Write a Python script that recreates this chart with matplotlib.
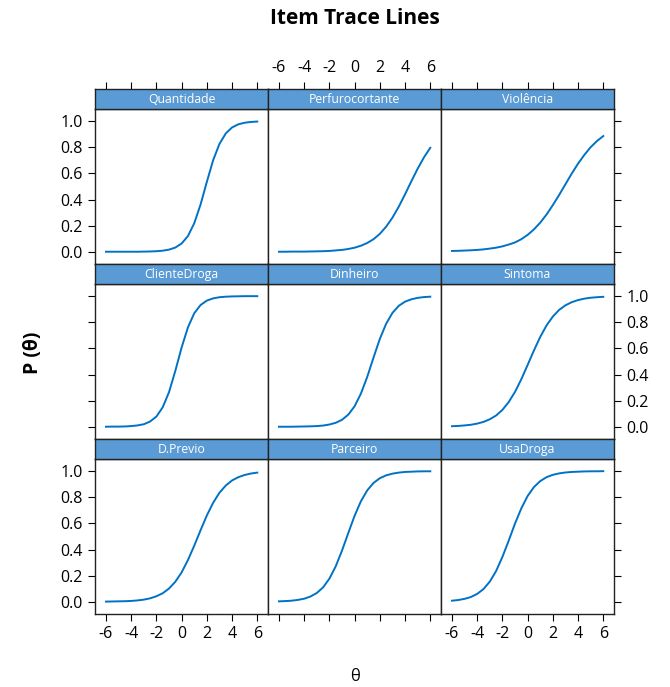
import matplotlib
matplotlib.use('Agg')
import matplotlib.pyplot as plt

plt.rcParams['font.family'] = ['Open Sans', 'DejaVu Sans']

# theta grid and item trace values
theta = [-6.0, -5.5, -5.0, -4.5, -4.0, -3.5, -3.0, -2.5, -2.0, -1.5, -1.0, -0.5, 0.0,
         0.5, 1.0, 1.5, 2.0, 2.5, 3.0, 3.5, 4.0, 4.5, 5.0, 5.5, 6.0]

quantidade = [0.000, 0.000, 0.000, 0.000, 0.000, 0.000, 0.001, 0.002, 0.004, 0.008, 0.016, 0.032, 0.063,
              0.120, 0.218, 0.361, 0.535, 0.701, 0.826, 0.906, 0.952, 0.976, 0.988, 0.994, 0.997]
perfurocortante = [0.000, 0.000, 0.001, 0.001, 0.001, 0.002, 0.003, 0.004, 0.006, 0.010, 0.014, 0.021, 0.031,
                   0.046, 0.067, 0.096, 0.137, 0.192, 0.261, 0.345, 0.440, 0.540, 0.636, 0.723, 0.796]
violencia = [0.006, 0.007, 0.009, 0.011, 0.014, 0.018, 0.024, 0.031, 0.041, 0.055, 0.071, 0.096, 0.129,
             0.171, 0.223, 0.285, 0.357, 0.435, 0.517, 0.599, 0.675, 0.742, 0.801, 0.848, 0.886]
cliente_droga = [0.000, 0.001, 0.001, 0.002, 0.005, 0.010, 0.019, 0.040, 0.078, 0.149, 0.265, 0.428, 0.607,
                 0.761, 0.869, 0.932, 0.966, 0.983, 0.992, 0.996, 0.998, 0.999, 1.000, 1.000, 1.000]
dinheiro = [0.000, 0.000, 0.000, 0.001, 0.002, 0.003, 0.005, 0.009, 0.017, 0.030, 0.053, 0.093, 0.157,
            0.254, 0.382, 0.530, 0.673, 0.789, 0.872, 0.926, 0.958, 0.976, 0.987, 0.993, 0.996]
sintoma = [0.004, 0.006, 0.010, 0.015, 0.024, 0.037, 0.057, 0.086, 0.129, 0.189, 0.267, 0.364, 0.473,
           0.584, 0.688, 0.776, 0.844, 0.895, 0.930, 0.954, 0.970, 0.981, 0.988, 0.992, 0.995]
d_previo = [0.001, 0.002, 0.003, 0.004, 0.006, 0.010, 0.016, 0.026, 0.042, 0.065, 0.101, 0.153, 0.225,
            0.319, 0.429, 0.547, 0.661, 0.758, 0.835, 0.890, 0.929, 0.954, 0.971, 0.982, 0.989]
parceiro = [0.003, 0.005, 0.008, 0.014, 0.023, 0.040, 0.067, 0.110, 0.177, 0.271, 0.392, 0.527, 0.659,
            0.770, 0.853, 0.910, 0.946, 0.968, 0.981, 0.989, 0.994, 0.996, 0.998, 0.999, 0.999]
usa_droga = [0.008, 0.013, 0.022, 0.036, 0.060, 0.097, 0.154, 0.235, 0.343, 0.468, 0.599, 0.715, 0.810,
             0.878, 0.924, 0.954, 0.972, 0.983, 0.990, 0.994, 0.996, 0.998, 0.999, 0.999, 1.000]

items = ['Quantidade', 'Perfurocortante', 'Violência',
         'ClienteDroga', 'Dinheiro', 'Sintoma',
         'D.Previo', 'Parceiro', 'UsaDroga']
curves = [quantidade, perfurocortante, violencia,
          cliente_droga, dinheiro, sintoma,
          d_previo, parceiro, usa_droga]

x_ticks = [-6, -4, -2, 0, 2, 4, 6]
y_ticks = [0.0, 0.2, 0.4, 0.6, 0.8, 1.0]

W, H = 670, 687
fig = plt.figure(figsize=(W / 100, H / 100), dpi=100)

left, top = 95, 89
col_w = 173
row_h = 175
strip_h = 19.5
line_col = '#0072C6'
strip_col = '#5B9BD5'
tick_kw = dict(direction='out', length=5, width=0.8, labelsize=11.5, pad=4)

for i, (name, vals) in enumerate(zip(items, curves)):
    r, c = divmod(i, 3)
    x0 = left + c * col_w
    y_strip = top + r * row_h
    y_plot = y_strip + strip_h
    ph = row_h - strip_h

    ax = fig.add_axes([x0 / W, 1 - (y_plot + ph) / H, col_w / W, ph / H])
    ax.plot(theta, vals, color=line_col, lw=1.4)
    ax.set_xlim(-6.87, 6.85)
    ax.set_ylim(-0.094, 1.097)
    ax.set_xticks(x_ticks)
    ax.set_yticks(y_ticks)
    ax.set_yticklabels([f'{v:.1f}' for v in y_ticks])
    ax.set_xticklabels([str(v) for v in x_ticks])
    ax.tick_params(top=False, bottom=(r == 2), left=(c == 0), right=(c == 2),
                   labeltop=False, labelbottom=(r == 2 and c != 1),
                   labelleft=(c == 0 and r != 1), labelright=(c == 2 and r == 1),
                   **tick_kw)
    for s in ax.spines.values():
        s.set_linewidth(1.0)
        s.set_color('#222222')

    # strip with the item name; also carries the top ticks
    sx = fig.add_axes([x0 / W, 1 - (y_strip + strip_h) / H, col_w / W, strip_h / H])
    sx.set_facecolor(strip_col)
    sx.set_xlim(-6.87, 6.85)
    sx.set_ylim(0, 1)
    sx.set_xticks(x_ticks)
    sx.set_xticklabels([str(v) for v in x_ticks])
    sx.set_yticks([])
    sx.tick_params(top=(r == 0), bottom=False, left=False, right=False,
                   labeltop=(r == 0 and c == 1), labelbottom=False, **tick_kw)
    for s in sx.spines.values():
        s.set_linewidth(1.0)
        s.set_color('#222222')
    sx.text(0.5, 0.45, name, transform=sx.transAxes, ha='center', va='center',
            color='white', fontsize=8.8)

fig.text(354.5 / W, 1 - 19 / H, 'Item Trace Lines', ha='center', va='center',
         fontsize=15, fontweight='bold')
fig.text(354.5 / W, 1 - 677 / H, 'θ', ha='center', va='center', fontsize=12)
fig.text(33 / W, 1 - 353 / H, 'P (θ)', ha='center', va='center', rotation=90,
         fontsize=14, fontweight='bold')

fig.savefig('out.png', dpi=100)
